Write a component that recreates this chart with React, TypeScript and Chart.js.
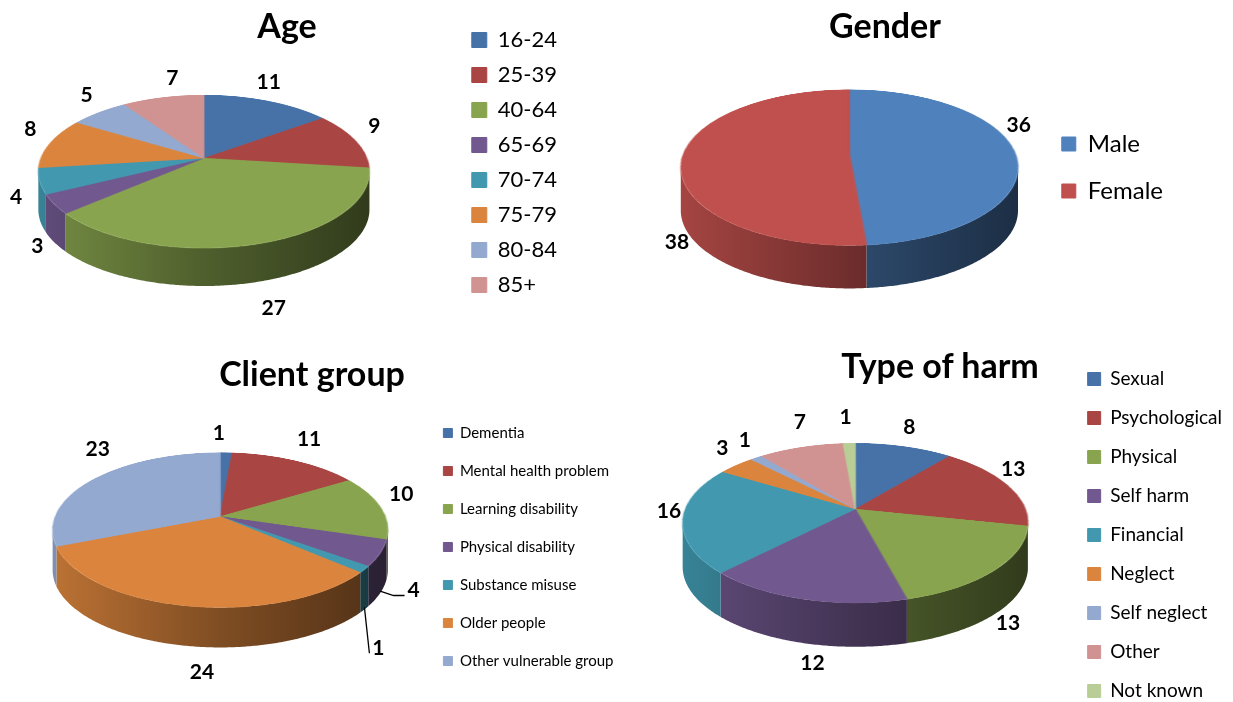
import React, { useEffect, useRef } from 'react';
import { Chart, registerables } from 'chart.js';

Chart.register(...registerables);

// ---------- data ----------
const ageLabels = ['16-24', '25-39', '40-64', '65-69', '70-74', '75-79', '80-84', '85+'];
const ageValues = [11, 9, 27, 3, 4, 8, 5, 7];

const genderLabels = ['Male', 'Female'];
const genderValues = [36, 38];

const clientLabels = [
  'Dementia',
  'Mental health problem',
  'Learning disability',
  'Physical disability',
  'Substance misuse',
  'Older people',
  'Other vulnerable group',
];
const clientValues = [1, 11, 10, 4, 1, 24, 23];

const harmLabels = [
  'Sexual',
  'Psychological',
  'Physical',
  'Self harm',
  'Financial',
  'Neglect',
  'Self neglect',
  'Other',
  'Not known',
];
const harmValues = [8, 13, 13, 12, 16, 3, 1, 7, 1];

// ---------- styles ----------
const palette = ['#4672A8', '#A94543', '#88A44E', '#71588F', '#4198AF', '#DB843D', '#93A9CF', '#D19392', '#B9CD96'];
const genderPalette = ['#4F81BD', '#C0504D'];
const FONT = 'Lato, "Open Sans", sans-serif';

function shade(hex: string, f: number) {
  const n = parseInt(hex.slice(1), 16);
  const r = Math.round(((n >> 16) & 255) * f);
  const g = Math.round(((n >> 8) & 255) * f);
  const b = Math.round((n & 255) * f);
  return `rgb(${r},${g},${b})`;
}

// geometry of the perspective view of a pie drawn by Chart.js
function geometry(chart: any) {
  const arcs = chart.getDatasetMeta(0).data as any[];
  const o = chart.options.plugins.pie3d;
  const cx = arcs[0].x;
  const cy = arcs[0].y;
  const R = arcs[0].outerRadius;
  const a = o.tilt;
  const q = o.persp;
  const d = o.depth;
  const p = q / R;
  const back = (a * R) / (1 + q);
  const front = (a * R) / (1 - q);
  const cyC = cy - (front + d - back) / 2;
  const proj = (t: number, rad: number) => {
    const sP = 1 / (1 - p * rad * Math.sin(t));
    return [cx + rad * Math.cos(t) * sP, cyC + a * rad * Math.sin(t) * sP];
  };
  return { arcs, cx, cy, R, a, q, d, p, back, front, cyC, proj };
}

// Re-projects the flat pie drawn by Chart.js into a 3D perspective disc with a side wall.
const pie3d = {
  id: 'pie3d',
  afterDatasetsDraw(chart: any) {
    const g = geometry(chart);
    if (!g.arcs.length) return;
    const { arcs, cx, cy, R, a, q, d, p, back, front, cyC, proj } = g;
    const ctx = chart.ctx as CanvasRenderingContext2D;
    const dpr = chart.currentDevicePixelRatio || 1;
    const m = 3;
    const sw = Math.ceil(2 * (R + m));
    const off = document.createElement('canvas');
    off.width = sw * dpr;
    off.height = sw * dpr;
    const octx = off.getContext('2d') as CanvasRenderingContext2D;
    octx.drawImage(chart.canvas, (cx - R - m) * dpr, (cy - R - m) * dpr, sw * dpr, sw * dpr, 0, 0, sw * dpr, sw * dpr);
    ctx.save();
    ctx.clearRect(cx - R - m, cy - R - m, sw, sw);

    // side wall
    const colors = chart.data.datasets[0].backgroundColor as string[];
    const t1 = Math.asin(q);
    const t2 = Math.PI - t1;
    arcs.forEach((arc: any, i: number) => {
      for (const base of [-2 * Math.PI, 0, 2 * Math.PI]) {
        const s = Math.max(arc.startAngle, base + t1);
        const e = Math.min(arc.endAngle, base + t2);
        if (e <= s) continue;
        const n = Math.max(2, Math.ceil((e - s) / 0.01));
        ctx.beginPath();
        for (let j = 0; j <= n; j++) {
          const [x, y] = proj(s + ((e - s) * j) / n, R);
          if (j === 0) ctx.moveTo(x, y);
          else ctx.lineTo(x, y);
        }
        for (let j = n; j >= 0; j--) {
          const [x, y] = proj(s + ((e - s) * j) / n, R);
          ctx.lineTo(x, y + d);
        }
        ctx.closePath();
        const grad = ctx.createLinearGradient(cx - R * 1.02, 0, cx + R * 1.02, 0);
        grad.addColorStop(0, shade(colors[i], 0.86));
        grad.addColorStop(0.5, shade(colors[i], 0.58));
        grad.addColorStop(1, shade(colors[i], 0.36));
        ctx.fillStyle = grad;
        ctx.fill();
      }
    });

    // top face, row by row
    const yTop = Math.floor(cyC - back) - 1;
    const yBot = Math.ceil(cyC + front) + 1;
    for (let yy = yTop; yy < yBot; yy++) {
      const ys = yy + 0.5 - cyC;
      const v = ys / (a + ys * p);
      if (Math.abs(v) > R + m - 1) continue;
      const sP = 1 / (1 - p * v);
      const srcY = R + m + v - 0.5;
      ctx.drawImage(off, 0, srcY * dpr, sw * dpr, dpr, cx - (R + m) * sP, yy, sw * sP, 1);
    }
    ctx.restore();
  },
};

// Value labels around the 3D pie.
const sliceLabels = {
  id: 'sliceLabels',
  afterDraw(chart: any, _args: any, opts: any) {
    const g = geometry(chart);
    if (!g.arcs.length) return;
    const { arcs, cx, R, a, d, p, cyC, proj } = g;
    const values = chart.data.datasets[0].data as number[];
    const ctx = chart.ctx as CanvasRenderingContext2D;
    ctx.save();
    ctx.font = `bold ${opts.size}px ${FONT}`;
    ctx.fillStyle = '#000';
    ctx.strokeStyle = '#000';
    ctx.lineWidth = 1.3;
    ctx.textAlign = 'center';
    ctx.textBaseline = 'middle';
    arcs.forEach((arc: any, i: number) => {
      const mid = (arc.startAngle + arc.endAngle) / 2;
      const c = Math.cos(mid);
      const s = Math.sin(mid);
      const rg = R + opts.gap;
      const sP = 1 / (1 - p * rg * s);
      const off = (opts.offsets && opts.offsets[i]) || [0, 0, 0];
      const x = cx + rg * c * sP + off[0];
      const y = cyC + a * rg * s * sP - opts.lift + (s > 0 ? (d + opts.front) * s : 0) + off[1];
      if (off[2]) {
        const [ax, ay0] = proj(mid, R);
        const ay = ay0 + (s > 0 ? d * 0.95 : 0);
        const ex = x - 9;
        const ey = y + 5;
        ctx.beginPath();
        ctx.moveTo(ax, ay);
        if (ax < ex - 12) {
          ctx.lineTo(ex - 11, ey);
        }
        ctx.lineTo(ex, ey);
        ctx.stroke();
      }
      ctx.fillText(String(values[i]), x, y);
    });
    ctx.restore();
  },
};

type Cfg = {
  labels: string[];
  values: number[];
  colors: string[];
  radius: number;
  depth: number;
  shift: number;
  padding: { left: number; right: number; top: number; bottom: number };
  legendSize: number;
  legendPad: number;
  box: number;
  offsets?: Record<number, number[]>;
};

function Pie3D({ cfg }: { cfg: Cfg }) {
  const ref = useRef<HTMLCanvasElement>(null);
  useEffect(() => {
    const chart = new Chart(ref.current as HTMLCanvasElement, {
      type: 'pie',
      data: {
        labels: cfg.labels,
        datasets: [
          {
            data: cfg.values,
            backgroundColor: cfg.colors,
            borderColor: cfg.colors,
            borderWidth: 1,
            radius: cfg.radius,
          } as any,
        ],
      },
      options: {
        responsive: false,
        animation: false,
        events: [],
        layout: { padding: cfg.padding },
        plugins: {
          legend: {
            position: 'right',
            align: 'start',
            labels: {
              color: '#000',
              boxWidth: cfg.box,
              boxHeight: cfg.box,
              padding: cfg.legendPad,
              font: { family: FONT, size: cfg.legendSize },
            },
          },
          tooltip: { enabled: false },
          title: { display: false },
          pie3d: { tilt: 0.455, persp: 0.175, depth: cfg.depth },
          sliceLabels: { size: 21, gap: 22, lift: 12, front: 20, offsets: cfg.offsets },
        } as any,
      },
      plugins: [pie3d, sliceLabels],
    });
    return () => chart.destroy();
  }, []);
  return (
    <canvas
      ref={ref}
      width={1233}
      height={900}
      style={{ position: 'absolute', left: -cfg.shift, top: 0, width: 1233, height: 900 }}
    />
  );
}

const ageCfg: Cfg = {
  labels: ageLabels,
  values: ageValues,
  colors: palette.slice(0, 8),
  radius: 163,
  depth: 38,
  shift: 100,
  padding: { left: 49, right: 566, top: 16, bottom: 535 },
  legendSize: 22,
  legendPad: 13,
  box: 15,
  offsets: { 0: [-6, 0, 0], 2: [3, 7, 0], 3: [6, 15, 0], 4: [0, 8, 0], 7: [14, 0, 0] },
};

const genderCfg: Cfg = {
  labels: genderLabels,
  values: genderValues,
  colors: genderPalette,
  radius: 166,
  depth: 43,
  shift: 0,
  padding: { left: 660, right: 60, top: 109, bottom: 631 },
  legendSize: 24,
  legendPad: 23,
  box: 14,
  offsets: { 0: [-17, -13, 0], 1: [17, 94, 0] },
};

const clientCfg: Cfg = {
  labels: clientLabels,
  values: clientValues,
  colors: palette.slice(0, 7),
  radius: 165,
  depth: 40,
  shift: 0,
  padding: { left: 20, right: 609.5, top: 402.5, bottom: 202.5 },
  legendSize: 15,
  legendPad: 23,
  box: 9,
  offsets: { 0: [-8, 0, 0], 1: [5, -3, 0], 3: [10, 17, 1], 4: [-8, 45, 1], 5: [21, 4, 0], 6: [17, -12, 0] },
};

const harmCfg: Cfg = {
  labels: harmLabels,
  values: harmValues,
  colors: palette.slice(0, 9),
  radius: 170,
  depth: 44,
  shift: 0,
  padding: { left: 643, right: 1, top: 349.5, bottom: 159.5 },
  legendSize: 19,
  legendPad: 20,
  box: 13,
  offsets: { 1: [-12, 0, 0], 2: [-8, 12, 0], 3: [17, 0, 0], 4: [9, -5, 0], 7: [5, -6, 0], 8: [-3, -7, 0] },
};

const titles = [
  { text: 'Age', x: 287, y: 25 },
  { text: 'Gender', x: 885, y: 25 },
  { text: 'Client group', x: 312, y: 373 },
  { text: 'Type of harm', x: 940, y: 365 },
];

export default function App() {
  return (
    <div
      style={{
        position: 'fixed',
        left: 0,
        top: 0,
        width: 1233,
        height: 702,
        overflow: 'hidden',
        background: '#fff',
      }}
    >
      <Pie3D cfg={ageCfg} />
      <Pie3D cfg={genderCfg} />
      <Pie3D cfg={clientCfg} />
      <Pie3D cfg={harmCfg} />
      {titles.map((t) => (
        <div
          key={t.text}
          style={{
            position: 'absolute',
            left: t.x - 150,
            top: t.y - 20,
            width: 300,
            height: 40,
            lineHeight: '40px',
            textAlign: 'center',
            fontFamily: FONT,
            fontWeight: 'bold',
            fontSize: 34,
            color: '#000',
          }}
        >
          {t.text}
        </div>
      ))}
    </div>
  );
}
